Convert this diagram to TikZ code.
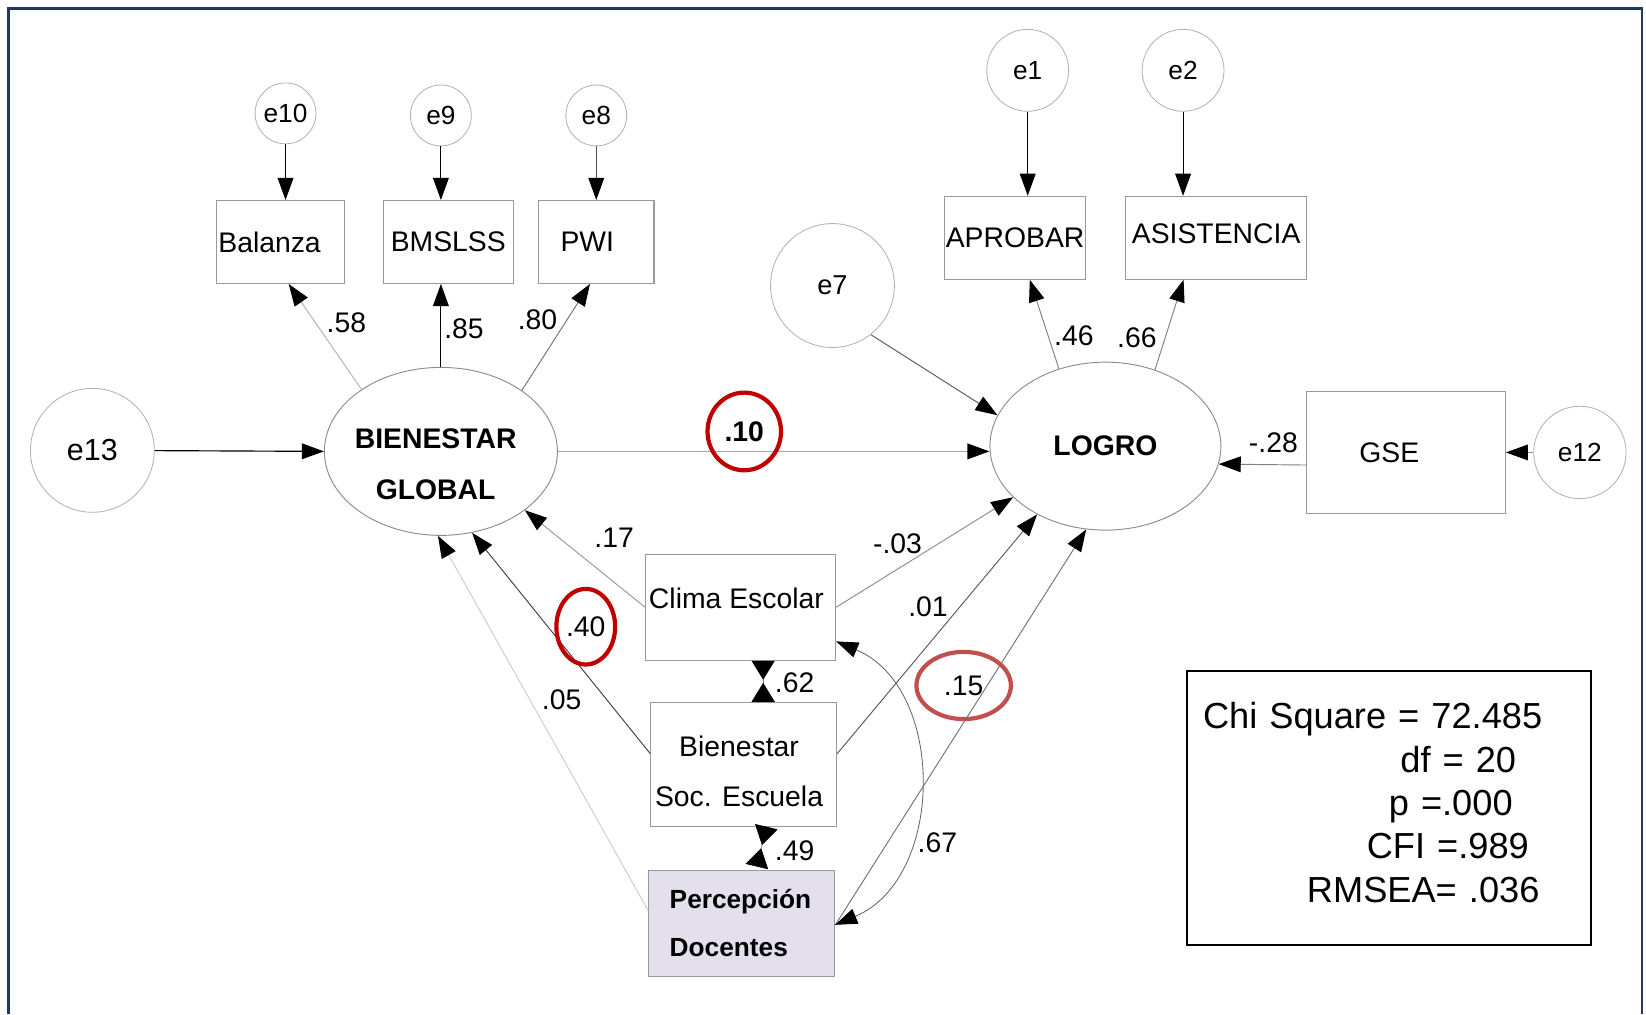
\documentclass[tikz,border=0pt]{standalone}
\usepackage{fontspec}
\setmainfont{Liberation Sans}
\usetikzlibrary{arrows.meta,shapes.geometric,calc}
\definecolor{framecol}{HTML}{1F3864}
\definecolor{redA}{HTML}{C00000}
\definecolor{redB}{HTML}{C0504D}
\definecolor{lav}{HTML}{E4DFEC}
\newcommand{\myfs}[2]{\fontsize{#1}{#2}\selectfont}
\newcommand{\lowerby}[2]{\smash{\raisebox{#1}{#2}}\vphantom{#2}}
\begin{document}
\begin{tikzpicture}[x=1pt,y=-1pt,
  box/.style={draw=black!40, line width=1pt, rectangle, inner sep=0pt, font=\myfs{27}{32}},
  err/.style={draw=black!30, circle, inner sep=0pt, line width=0.8pt, font=\myfs{25}{30}},
  lat/.style={draw=black!45, ellipse, inner sep=0pt, line width=0.9pt},
  arr/.style={-{Triangle[length=21pt,width=15pt,color=black]}, line width=0.9pt},
  cov/.style={{Triangle[reversed,length=18pt,width=22pt,color=black]}-{Triangle[reversed,length=18pt,width=22pt,color=black]}, line width=0.6pt, black!50},
  arrtwo/.style={{Triangle[length=21pt,width=15pt,color=black]}-{Triangle[length=21pt,width=15pt,color=black]}, line width=0.8pt, black!60},
  lbl/.style={font=\myfs{27}{32}, inner sep=0pt}]
\useasboundingbox (0,0) rectangle (1568,966);
\draw[framecol, line width=2.2pt] (8,966) -- (8,8) -- (1564,8) -- (1564,966);

% error terms
\node[err, minimum size=58pt] (e10) at (272,108) {e10};
\node[err, minimum size=58pt] (e9) at (420,110) {e9};
\node[err, minimum size=58pt] (e8) at (568,110) {e8};
\node[err, minimum size=78pt] (e1) at (979,67) {e1};
\node[err, minimum size=78pt] (e2) at (1127,67) {e2};
\node[err, minimum size=118pt, font=\myfs{26}{30}] (e7) at (793,272) {e7};
\node[err, minimum size=118pt, font=\myfs{29}{34}] (e13) at (88,429) {e13};
\node[err, minimum size=88pt] (e12) at (1505,431) {e12};

% observed
\node[box, minimum width=122pt, minimum height=79pt, text width=118pt, align=left, inner xsep=2pt] (bal) at (267,230.5) {Balanza};
\node[box, minimum width=124pt, minimum height=79pt] (bms) at (427,230.5) {BMSLSS};
\node[box, minimum width=110pt, minimum height=79pt, text width=68pt, align=left, inner xsep=21pt] (pwi) at (568,230.5) {PWI};
\node[box, minimum width=134pt, minimum height=79pt] (apr) at (967,226.5) {APROBAR};
\node[box, minimum width=173pt, minimum height=79pt] (asi) at (1158.5,226.5) {\lowerby{4pt}{ASISTENCIA}};
\node[box, minimum width=189pt, minimum height=116pt, text width=89pt, align=left, inner xsep=50pt] (gse) at (1339.5,431) {GSE};
\node[box, minimum width=181pt, minimum height=101pt] (clima) at (705.5,578.5) {\hspace*{-8pt}\lowerby{8.5pt}{Clima Escolar}};
\node[box, minimum width=177pt, minimum height=118pt, font=\myfs{27}{48}] (bse) at (708.5,728) {\hspace*{-9pt}\lowerby{-7pt}{\begin{tabular}{@{}c@{}}Bienestar\\Soc. Escuela\end{tabular}}};
\node[box, fill=lav, minimum width=177pt, minimum height=101pt, text width=137pt, align=left, inner xsep=20pt, font=\bfseries\myfs{25}{46}] (pd) at (706.5,879.5) {Percepción\\Docentes};

% latent
\node[lat, minimum width=222pt, minimum height=160pt, font=\bfseries\myfs{27}{49}] (BG) at (420,430) {\hspace*{-10pt}\lowerby{-12pt}{\begin{tabular}{@{}c@{}}BIENESTAR\\GLOBAL\end{tabular}}};
\node[lat, minimum width=220pt, minimum height=160pt, font=\bfseries\myfs{27}{32}] (LOG) at (1053,425) {LOGRO};

% stats
\node[draw=black, line width=1.8pt, minimum width=385pt, minimum height=261pt, text width=355pt, inner xsep=15pt, align=left, font=\myfs{34.5}{41.25}] (stats) at (1323.5,769.5)
 {\lowerby{1pt}{\begin{tabular}{@{}l@{}}Chi Square = 72.485\\
  \hspace*{188pt}df = 20\\
  \hspace*{177pt}p =.000\\
  \hspace*{156pt}CFI =.989\\
  \hspace*{99pt}RMSEA= .036\end{tabular}}};

% error arrows
\draw[arr] (e10) -- (e10 |- bal.north);
\draw[arr] (e9) -- (e9 |- bms.north);
\draw[arr, black!70] (e8) -- (e8 |- pwi.north);
\draw[arr] (e1) -- (e1 |- apr.north);
\draw[arr] (e2) -- (e2 |- asi.north);
\draw[arr, line width=1.1pt] (e13) -- (BG.west);
\draw[arr, black!65] (e7.-52) -- (LOG.164);
\draw[arr, black!45] (e12) -- (gse.east);

% loadings
\draw[arr, black!30] (BG.142) -- ($(bal.south)+(8,0)$);
\draw[arr] (BG.north) -- (BG.north |- bms.south);
\draw[arr, black!55] (BG.37) -- ($(pwi.south)+(-6,0)$);
\draw[arr, black!50] (LOG.121) -- ($(apr.south)+(14,0)$);
\draw[arr, black!50] (LOG.57) -- ($(asi.south)+(-31,0)$);

% structural
\draw[arr, black!35, line width=1.2pt] (BG.east) -- (BG.east -| LOG.west);
\draw[arr, black!50] ($(gse.west)+(0,12)$) -- (LOG.-9);
\draw[arr, black!40] (clima.west) -- (BG.-35);
\draw[arr, black!75] ($(bse.west)+(0,-10)$) -- (BG.-69);
\draw[arr, black!20] ($(pd.west)+(0,-12)$) -- (BG.-92);
\draw[arr, black!45] (clima.east) -- (LOG.-151);
\draw[arr, black!65] ($(bse.east)+(0,-10)$) -- (LOG.-135);
\draw[arr, black!55] ($(pd.east)+(0,2)$) -- (LOG.-103);

% covariances
\draw[cov] ($(clima.south)+(21.5,0)$) -- ($(bse.north)+(18.5,0)$);
\draw[cov] ($(bse.south)+(21.5,0)$) -- ($(pd.north)+(14.5,-3)$);
\draw[arrtwo] ($(clima.east)+(0,32.5)$) .. controls +(105,44) and +(105,-44) .. ($(pd.east)+(0,1.5)$);

% labels
\node[lbl] (l58) at (330,307) {.58};
\node[lbl] (l85) at (442,313) {.85};
\node[lbl] (l80) at (512,305) {.80};
\node[lbl, ellipse, draw=redA, line width=4pt, minimum width=70pt, minimum height=74pt, font=\bfseries\myfs{27}{32}] (l10) at (709,411) {.10};
\node[lbl] (l46) at (1023,320) {.46};
\node[lbl] (l66) at (1083,322) {.66};
\node[lbl] (l28) at (1213,422) {-.28};
\node[lbl] (l17) at (585,512) {.17};
\node[lbl, ellipse, draw=redA, line width=4pt, minimum width=56pt, minimum height=72pt] (l40) at (558,597) {.40};
\node[lbl] (l05) at (535,667) {.05};
\node[lbl] (l03) at (855,518) {-.03};
\node[lbl] (l01) at (884,578) {.01};
\node[lbl, ellipse, draw=redB, line width=4pt, minimum width=90pt, minimum height=64pt] (l15) at (918,653) {.15};
\node[lbl] (l62) at (757,650) {.62};
\node[lbl] (l49) at (757,810) {.49};
\node[lbl] (l67) at (893,803) {.67};
\end{tikzpicture}
\end{document}
